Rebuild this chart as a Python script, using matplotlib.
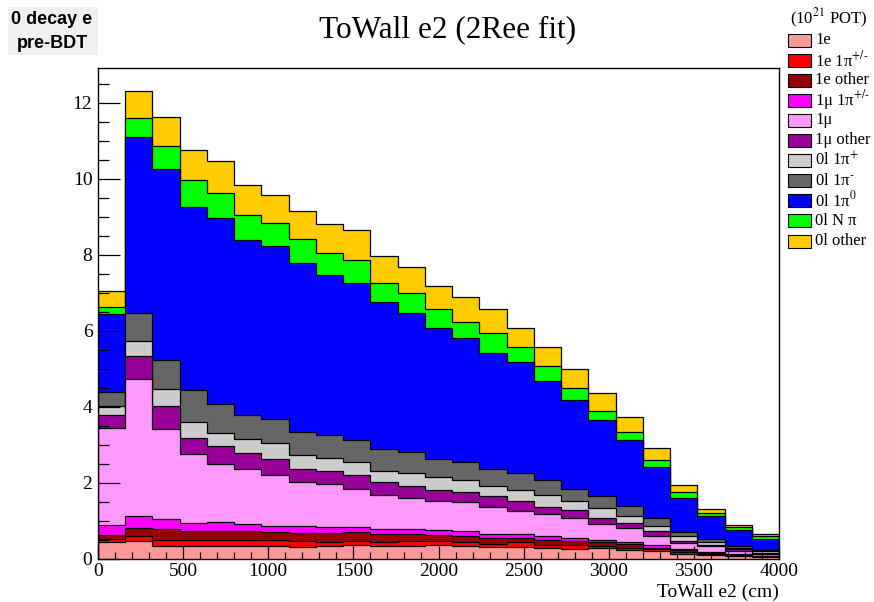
import numpy as np
import matplotlib
matplotlib.use("Agg")
import matplotlib.pyplot as plt
from matplotlib.patches import Rectangle
from matplotlib.ticker import MultipleLocator

plt.rcParams["font.family"] = ["Liberation Serif", "DejaVu Serif"]
plt.rcParams["mathtext.fontset"] = "stix"

# Binning: 25 bins of 160 cm between 0 and 4000 cm
bin_edges = np.linspace(0, 4000, 26)

# Per-channel event counts in each ToWall bin (stack order, bottom first)
one_e = [0.43, 0.47, 0.34, 0.33, 0.33, 0.33, 0.33, 0.32, 0.33, 0.35, 0.34, 0.34, 0.37,
         0.34, 0.30, 0.32, 0.27, 0.26, 0.27, 0.22, 0.20, 0.13, 0.09, 0.06, 0.04]
one_e_1pic = [0.08, 0.13, 0.15, 0.15, 0.16, 0.17, 0.15, 0.14, 0.12, 0.12, 0.11, 0.13, 0.10,
              0.10, 0.10, 0.11, 0.09, 0.10, 0.07, 0.07, 0.05, 0.04, 0.03, 0.02, 0.01]
one_e_other = [0.11, 0.20, 0.28, 0.24, 0.25, 0.24, 0.23, 0.22, 0.22, 0.23, 0.19, 0.18, 0.15,
               0.17, 0.15, 0.11, 0.14, 0.10, 0.09, 0.09, 0.04, 0.05, 0.03, 0.02, 0.01]
one_mu_1pic = [0.26, 0.32, 0.27, 0.21, 0.22, 0.18, 0.16, 0.18, 0.16, 0.13, 0.14, 0.12, 0.14,
               0.12, 0.09, 0.10, 0.09, 0.09, 0.07, 0.05, 0.06, 0.03, 0.03, 0.02, 0.02]
one_mu = [2.55, 3.60, 2.37, 1.83, 1.54, 1.44, 1.32, 1.16, 1.13, 1.00, 0.90, 0.82, 0.77,
          0.76, 0.73, 0.62, 0.58, 0.51, 0.41, 0.37, 0.24, 0.16, 0.15, 0.09, 0.05]
one_mu_other = [0.35, 0.61, 0.60, 0.42, 0.47, 0.43, 0.43, 0.33, 0.34, 0.37, 0.35, 0.32, 0.28,
                0.27, 0.28, 0.25, 0.20, 0.22, 0.17, 0.14, 0.15, 0.06, 0.04, 0.04, 0.03]
zero_l_1pip = [0.24, 0.41, 0.45, 0.43, 0.35, 0.37, 0.42, 0.37, 0.35, 0.34, 0.28, 0.34, 0.33,
               0.31, 0.27, 0.30, 0.31, 0.23, 0.25, 0.18, 0.13, 0.13, 0.07, 0.03, 0.03]
zero_l_1pim = [0.38, 0.73, 0.76, 0.82, 0.76, 0.63, 0.65, 0.62, 0.60, 0.58, 0.58, 0.55, 0.48,
               0.47, 0.44, 0.45, 0.39, 0.32, 0.33, 0.28, 0.19, 0.09, 0.07, 0.06, 0.04]
zero_l_1pi0 = [2.03, 4.64, 5.03, 4.83, 4.89, 4.60, 4.54, 4.43, 4.21, 4.13, 3.87, 3.67, 3.44,
               3.26, 3.06, 2.92, 2.61, 2.35, 1.98, 1.72, 1.35, 0.90, 0.61, 0.42, 0.30]
zero_l_npi = [0.20, 0.48, 0.61, 0.70, 0.65, 0.65, 0.60, 0.64, 0.58, 0.61, 0.49, 0.51, 0.51,
              0.42, 0.51, 0.40, 0.39, 0.32, 0.26, 0.21, 0.19, 0.16, 0.07, 0.07, 0.06]
zero_l_other = [0.41, 0.71, 0.77, 0.79, 0.84, 0.79, 0.75, 0.75, 0.78, 0.79, 0.72, 0.71, 0.61,
                0.67, 0.63, 0.48, 0.51, 0.50, 0.45, 0.41, 0.31, 0.18, 0.11, 0.05, 0.05]

channel_labels = ["1e", r"1e 1π$^{+/\text{-}}$", "1e other", r"1μ 1π$^{+/\text{-}}$", "1μ",
                  "1μ other", "0l 1π$^{+}$", r"0l 1π$^{\text{-}}$", "0l 1π$^{0}$",
                  "0l N π", "0l other"]
channel_colors = ["#ff9999", "#ff0000", "#990000", "#ff00ff", "#ff99ff", "#990099",
                  "#cccccc", "#666666", "#0000ff", "#00ff00", "#ffcc00"]

channels = np.array([one_e, one_e_1pic, one_e_other, one_mu_1pic, one_mu, one_mu_other,
                     zero_l_1pip, zero_l_1pim, zero_l_1pi0, zero_l_npi, zero_l_other])
cumulative = np.cumsum(channels, axis=0)

W, H = 874, 602
fig = plt.figure(figsize=(W / 100, H / 100), dpi=100)
ax_left, ax_right, ax_top, ax_bottom = 98, 779, 68, 558.7
ax = fig.add_axes([ax_left / W, 1 - ax_bottom / H,
                   (ax_right - ax_left) / W, (ax_bottom - ax_top) / H])

# Stacked histogram: each cumulative total drawn from the back to the front
for k in range(len(channels) - 1, -1, -1):
    ax.stairs(cumulative[k], bin_edges, fill=True, baseline=0,
              facecolor=channel_colors[k], edgecolor="black", linewidth=0.9)

ax.set_xlim(0, 4000)
ax.set_ylim(0, 1.05 * cumulative[-1].max())

ax.xaxis.set_major_locator(MultipleLocator(500))
ax.xaxis.set_minor_locator(MultipleLocator(100))
ax.yaxis.set_major_locator(MultipleLocator(2))
ax.yaxis.set_minor_locator(MultipleLocator(0.5))
ax.tick_params(axis="x", which="major", direction="in", length=9.5, width=0.9,
               labelsize=14, pad=3, top=False)
ax.tick_params(axis="x", which="minor", direction="in", length=5, width=0.9, top=False)
ax.tick_params(axis="y", which="major", direction="in", length=16, width=0.9,
               labelsize=14, pad=4, right=False)
ax.tick_params(axis="y", which="minor", direction="in", length=8, width=0.9, right=False)
for s in ax.spines.values():
    s.set_linewidth(1.0)

fig.text(ax_right / W, 1 - 592 / H, "ToWall e2 (cm)", ha="right", va="center", fontsize=14)
fig.text(448 / W, 1 - 30 / H, "ToWall e2 (2Ree fit)", ha="center", va="center", fontsize=22.5)

# Selection tag in the top-left corner
fig.patches.append(Rectangle((8 / W, 1 - 55 / H), 90 / W, 48 / H,
                             transform=fig.transFigure, facecolor="#f0f0f0",
                             edgecolor="none"))
fig.text(52 / W, 1 - 19 / H, "0 decay e", ha="center", va="center", fontsize=13,
         fontweight="bold", family=["Liberation Sans", "DejaVu Sans"])
fig.text(52 / W, 1 - 43 / H, "pre-BDT", ha="center", va="center", fontsize=13,
         fontweight="bold", family=["Liberation Sans", "DejaVu Sans"])

# Legend column to the right of the frame
fig.text(790 / W, 1 - 18 / H, "(10$^{21}$ POT)", ha="left", va="center", fontsize=12)
for i, (lab, col) in enumerate(zip(channel_labels, channel_colors)):
    yc = 40 + 20.1 * i
    fig.patches.append(Rectangle((788 / W, 1 - (yc + 6.5) / H), 23 / W, 13 / H,
                                 transform=fig.transFigure, facecolor=col,
                                 edgecolor="black", linewidth=0.8))
    fig.text(815 / W, 1 - yc / H, lab, ha="left", va="center", fontsize=12)

fig.savefig("out.png", dpi=100)
